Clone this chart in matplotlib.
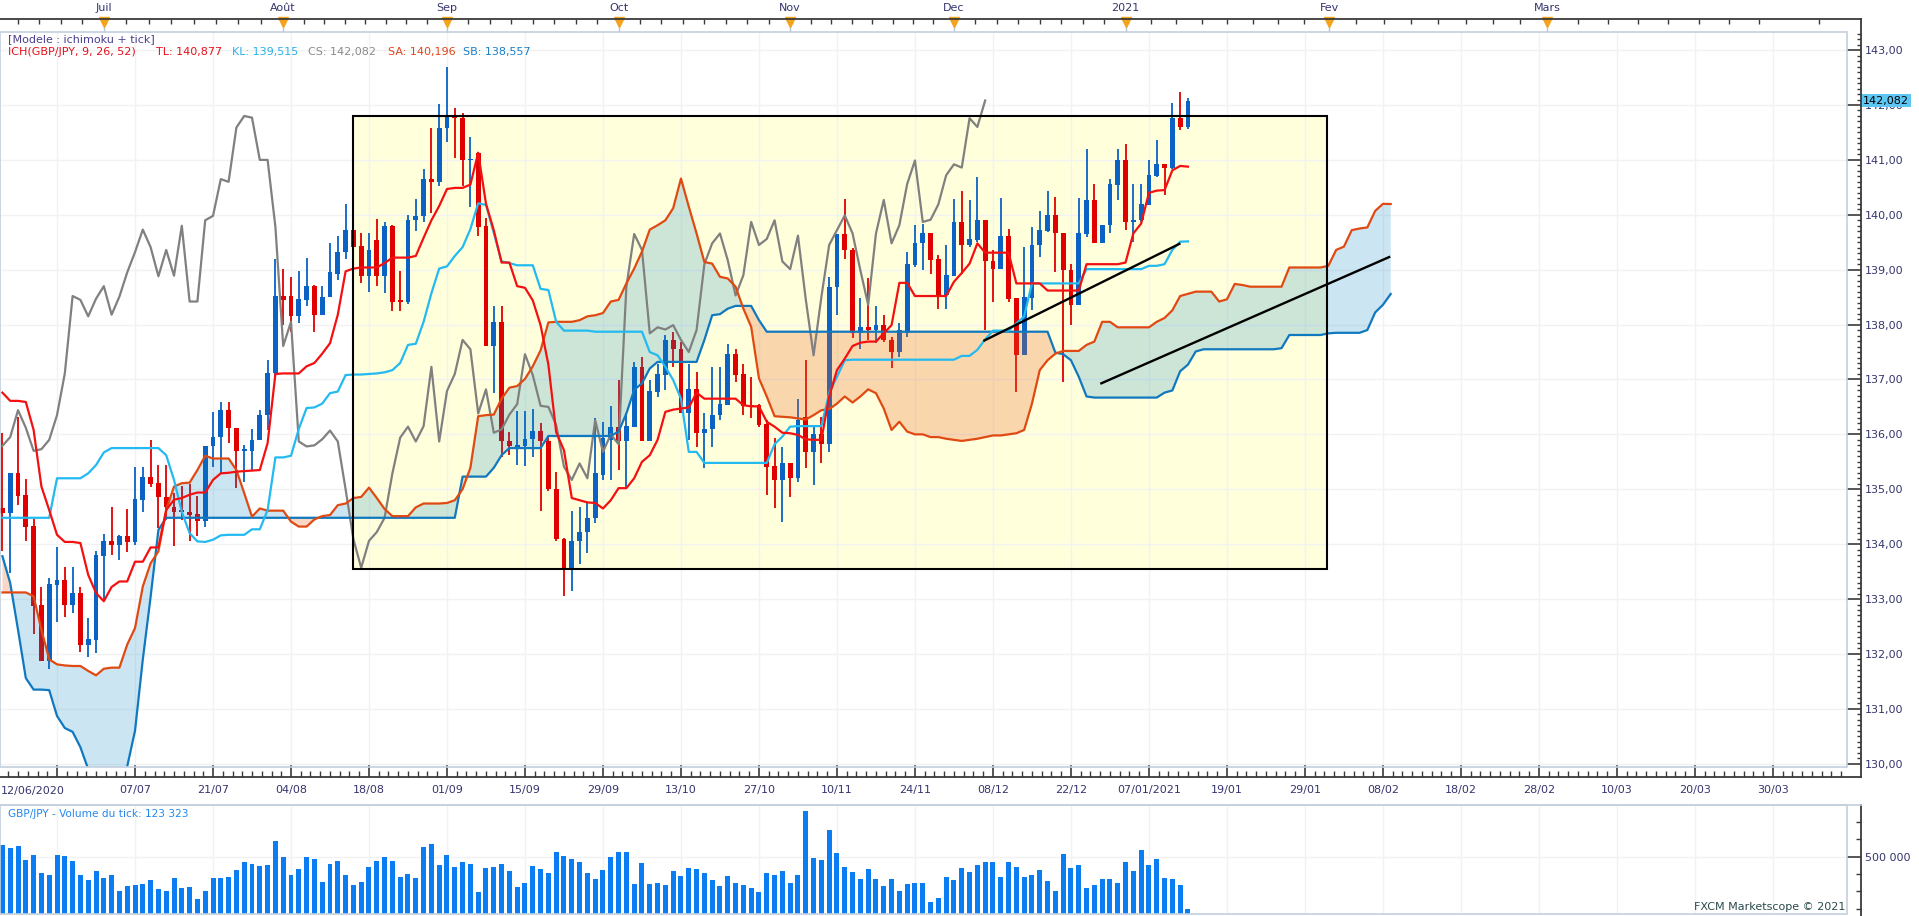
import numpy as np
import matplotlib
matplotlib.use("Agg")
import matplotlib.pyplot as plt
import matplotlib.transforms as mtransforms
from matplotlib.lines import Line2D
from matplotlib.patches import Rectangle
from matplotlib.ticker import FixedLocator, FixedFormatter, FuncFormatter, MultipleLocator

# GBP/JPY daily candles, bar 0 = 12/06/2020 ... bar 152 = 14/01/2021
opens = [
    134.65, 134.56, 135.29, 134.90, 134.33, 132.89, 131.88, 133.26, 133.35, 132.90,
    133.11, 132.17, 132.26, 133.79, 134.06, 133.99, 134.15, 134.04, 134.81, 135.23,
    135.11, 134.85, 134.67, 134.61, 134.58, 134.55, 134.43, 135.78, 135.95, 136.44,
    136.12, 135.70, 135.70, 135.90, 136.35, 137.11, 138.52, 138.52, 138.15, 138.45,
    138.70, 138.18, 138.51, 138.93, 139.32, 139.73, 139.43, 138.88, 139.54, 138.89,
    139.80, 138.44, 138.42, 139.90, 139.98, 140.65, 140.60, 141.59, 141.80, 141.77,
    140.99, 141.13, 139.80, 137.61, 138.05, 135.87, 135.77, 135.78, 135.91, 136.07,
    135.87, 135.01, 134.10, 133.57, 134.06, 134.22, 134.48, 135.26, 135.90, 136.14,
    135.87, 136.14, 137.23, 135.87, 136.77, 137.08, 137.72, 137.56, 136.38, 136.82,
    136.03, 136.09, 136.35, 136.53, 137.46, 137.10, 136.53, 136.53, 136.19, 135.42,
    135.17, 135.47, 135.20, 136.32, 135.68, 136.00, 135.82, 138.68, 139.65, 139.36,
    137.84, 137.95, 137.90, 137.99, 137.72, 137.50, 137.85, 139.08, 139.48, 139.66,
    139.19, 138.53, 138.89, 139.87, 139.45, 139.54, 139.90, 139.16, 139.01, 139.62,
    138.48, 137.44, 138.48, 139.45, 139.71, 139.99, 139.66, 139.00, 138.36, 139.65,
    140.27, 139.49, 139.81, 140.54, 140.99, 139.87, 139.90, 140.18, 140.71, 140.92,
    140.86, 141.76, 141.60,
]
highs = [
    136.02, 135.29, 136.32, 135.18, 134.45, 133.22, 133.38, 133.95, 133.58, 133.58,
    133.22, 132.65, 133.87, 134.19, 134.68, 134.17, 134.64, 135.40, 135.41, 135.90,
    135.45, 135.45, 134.93, 135.06, 135.10, 134.88, 135.79, 136.41, 136.59, 136.59,
    136.12, 135.81, 136.09, 136.44, 137.35, 139.19, 139.02, 138.86, 138.97, 139.22,
    138.73, 138.70, 139.49, 139.62, 140.19, 140.00, 139.67, 139.67, 139.93, 139.87,
    139.82, 138.97, 140.00, 140.29, 140.83, 141.59, 142.01, 142.69, 141.95, 141.85,
    141.41, 141.15, 139.95, 138.34, 138.34, 136.04, 136.43, 136.43, 136.46, 136.20,
    135.97, 135.32, 134.12, 134.61, 134.67, 134.77, 136.30, 136.23, 136.52, 136.99,
    136.38, 137.32, 137.41, 136.99, 137.29, 137.81, 137.87, 137.69, 137.29, 137.14,
    136.38, 137.23, 137.23, 137.64, 137.56, 137.29, 137.04, 136.56, 136.26, 135.93,
    135.77, 135.47, 136.65, 137.35, 136.14, 136.32, 138.87, 139.65, 140.28, 139.39,
    138.48, 138.84, 138.34, 138.17, 137.78, 138.03, 139.33, 139.81, 139.84, 139.66,
    139.27, 139.45, 140.28, 140.44, 140.27, 140.68, 139.90, 139.36, 140.30, 139.75,
    138.48, 139.42, 139.78, 140.06, 140.43, 140.33, 139.66, 139.11, 140.31, 141.20,
    140.56, 139.81, 140.65, 141.20, 141.29, 140.56, 140.56, 140.99, 141.36, 140.92,
    142.03, 142.24, 142.12,
]
lows = [
    133.87, 133.48, 134.72, 134.05, 132.37, 131.88, 131.72, 132.59, 132.67, 132.75,
    132.03, 131.94, 132.02, 132.96, 133.81, 133.72, 133.85, 133.99, 134.58, 135.05,
    134.29, 134.44, 133.97, 134.44, 134.05, 134.14, 134.31, 135.41, 135.29, 135.85,
    135.02, 135.14, 135.35, 135.90, 136.08, 137.00, 137.99, 137.86, 138.02, 138.34,
    137.86, 138.18, 138.51, 138.82, 139.19, 139.32, 138.75, 138.60, 138.70, 138.57,
    138.25, 138.25, 138.37, 139.71, 139.87, 140.03, 140.52, 141.33, 141.04, 140.52,
    140.14, 139.61, 137.61, 136.75, 135.58, 135.62, 135.45, 135.42, 135.58, 134.61,
    134.97, 134.06, 133.05, 133.15, 133.63, 133.83, 134.38, 135.17, 135.17, 135.35,
    135.04, 136.14, 135.87, 135.87, 136.68, 136.81, 137.23, 136.38, 135.90, 135.77,
    135.38, 135.77, 136.26, 136.53, 136.96, 136.35, 136.29, 136.14, 134.89, 134.65,
    134.41, 134.86, 135.14, 135.38, 135.08, 135.47, 135.68, 138.17, 139.20, 137.75,
    137.55, 137.72, 137.67, 137.69, 137.20, 137.41, 137.78, 139.05, 138.99, 138.92,
    138.28, 138.28, 138.89, 138.93, 139.42, 139.51, 137.90, 138.42, 139.01, 138.42,
    136.78, 137.44, 138.27, 139.24, 139.69, 138.95, 136.96, 137.99, 138.36, 139.60,
    139.48, 139.49, 139.66, 140.27, 139.72, 139.51, 139.87, 140.18, 140.68, 140.36,
    140.84, 141.54, 141.57,
]
closes = [
    134.56, 135.29, 134.88, 134.32, 132.88, 131.88, 133.28, 133.35, 132.90, 133.11,
    132.17, 132.27, 133.80, 134.06, 133.99, 134.15, 134.04, 134.82, 135.23, 135.10,
    134.85, 134.67, 134.59, 134.58, 134.53, 134.43, 135.79, 135.95, 136.44, 136.12,
    135.70, 135.73, 135.90, 136.35, 137.11, 138.52, 138.45, 138.15, 138.47, 138.70,
    138.18, 138.51, 138.95, 139.32, 139.73, 139.41, 138.88, 139.36, 138.89, 139.80,
    138.42, 138.42, 139.90, 139.98, 140.65, 140.60, 141.59, 141.80, 141.77, 141.00,
    141.00, 139.78, 137.61, 138.05, 135.87, 135.78, 135.80, 135.91, 136.07, 135.87,
    135.00, 134.09, 133.57, 134.06, 134.22, 134.48, 135.29, 135.94, 136.14, 135.87,
    136.15, 137.23, 135.87, 136.79, 137.10, 137.72, 137.55, 136.38, 136.82, 136.03,
    136.09, 136.36, 136.55, 137.46, 137.08, 136.52, 136.50, 136.17, 135.41, 135.17,
    135.47, 135.20, 136.26, 135.68, 136.00, 135.82, 138.69, 139.65, 139.36, 137.84,
    137.95, 137.91, 137.99, 137.72, 137.50, 137.90, 139.10, 139.48, 139.66, 139.17,
    138.53, 138.90, 139.87, 139.45, 139.56, 139.90, 139.15, 139.01, 139.62, 138.46,
    137.44, 138.50, 139.45, 139.72, 139.99, 139.66, 138.99, 138.36, 139.66, 140.27,
    139.48, 139.81, 140.56, 140.99, 139.87, 139.91, 140.19, 140.72, 140.92, 140.86,
    141.76, 141.60, 142.082,
]

# Ichimoku lines as drawn on the chart
tenkan = [
    136.76, 136.61, 136.61, 136.59, 136.08, 135.05, 134.62, 134.17, 134.04, 134.04,
    134.02, 133.44, 133.11, 132.96, 133.22, 133.32, 133.32, 133.68, 133.68, 133.94,
    133.94, 134.62, 134.81, 134.84, 134.90, 134.94, 134.94, 135.17, 135.29, 135.30,
    135.32, 135.33, 135.34, 135.35, 135.84, 137.10, 137.11, 137.11, 137.11, 137.24,
    137.30, 137.47, 137.66, 138.18, 138.97, 139.02, 139.04, 139.04, 139.04, 139.12,
    139.22, 139.22, 139.22, 139.25, 139.58, 139.90, 140.16, 140.47, 140.49, 140.49,
    140.55, 141.13, 140.20, 139.72, 139.13, 139.13, 138.70, 138.67, 138.44, 137.99,
    137.27, 136.04, 135.71, 134.84, 134.80, 134.76, 134.75, 134.65, 134.80, 135.02,
    135.02, 135.20, 135.50, 135.62, 135.90, 136.41, 136.45, 136.47, 136.49, 136.76,
    136.65, 136.65, 136.65, 136.65, 136.65, 136.53, 136.51, 136.51, 136.23, 136.14,
    136.03, 136.02, 135.99, 135.91, 135.90, 135.90, 136.69, 137.17, 137.38, 137.61,
    137.67, 137.69, 137.69, 137.84, 137.99, 138.76, 138.76, 138.52, 138.52, 138.52,
    138.52, 138.52, 138.78, 138.94, 139.11, 139.48, 139.31, 139.31, 139.31, 139.31,
    138.75, 138.75, 138.75, 138.75, 138.62, 138.62, 138.62, 138.62, 138.62, 139.10,
    139.10, 139.10, 139.10, 139.10, 139.13, 139.66, 139.84, 140.40, 140.44, 140.45,
    140.81, 140.89, 140.877,
]
kijun = [
    134.48, 134.48, 134.48, 134.48, 134.48, 134.48, 134.48, 135.20, 135.20, 135.20,
    135.20, 135.29, 135.44, 135.67, 135.75, 135.75, 135.75, 135.75, 135.75, 135.75,
    135.75, 135.62, 135.17, 134.59, 134.20, 134.05, 134.04, 134.08, 134.16, 134.17,
    134.17, 134.17, 134.27, 134.27, 134.62, 135.58, 135.58, 135.61, 136.10, 136.48,
    136.49, 136.56, 136.75, 136.78, 137.08, 137.09, 137.09, 137.10, 137.11, 137.13,
    137.17, 137.30, 137.63, 137.65, 138.05, 138.57, 139.02, 139.06, 139.25, 139.41,
    139.74, 140.21, 140.18, 139.67, 139.15, 139.12, 139.08, 139.08, 139.08, 138.65,
    138.63, 138.05, 137.89, 137.89, 137.89, 137.89, 137.87, 137.87, 137.87, 137.87,
    137.87, 137.87, 137.87, 137.50, 137.44, 137.23, 136.99, 136.65, 135.68, 135.68,
    135.48, 135.48, 135.48, 135.48, 135.48, 135.48, 135.48, 135.48, 135.48, 135.82,
    135.96, 136.14, 136.15, 136.15, 136.15, 136.15, 136.75, 137.05, 137.35, 137.36,
    137.36, 137.36, 137.36, 137.36, 137.36, 137.36, 137.36, 137.36, 137.36, 137.36,
    137.36, 137.36, 137.36, 137.43, 137.43, 137.54, 137.73, 137.89, 137.89, 137.89,
    138.02, 138.15, 138.75, 138.75, 138.75, 138.75, 138.75, 138.75, 138.75, 139.01,
    139.01, 139.01, 139.01, 139.01, 139.01, 139.01, 139.01, 139.07, 139.07, 139.10,
    139.36, 139.51, 139.515,
]
# Senkou spans run 26 bars past the last candle (bar 178)
senkou_a = [
    133.12, 133.12, 133.12, 133.12, 133.05, 132.44, 131.90, 131.81, 131.79, 131.78,
    131.78, 131.69, 131.61, 131.73, 131.75, 131.75, 132.17, 132.47, 133.23, 133.65,
    133.87, 134.62, 135.05, 135.11, 135.12, 135.35, 135.61, 135.56, 135.56, 135.56,
    135.35, 134.93, 134.50, 134.65, 134.61, 134.61, 134.61, 134.41, 134.32, 134.32,
    134.45, 134.51, 134.53, 134.71, 134.74, 134.84, 134.86, 135.03, 134.84, 134.64,
    134.51, 134.51, 134.51, 134.67, 134.74, 134.74, 134.74, 134.75, 134.80, 135.00,
    135.39, 136.33, 136.35, 136.36, 136.65, 136.85, 136.88, 137.01, 137.24, 137.53,
    138.04, 138.05, 138.05, 138.05, 138.08, 138.15, 138.17, 138.21, 138.42, 138.45,
    138.75, 139.02, 139.33, 139.73, 139.81, 139.90, 140.12, 140.66, 140.15, 139.66,
    139.14, 139.11, 138.87, 138.84, 138.69, 138.29, 137.96, 137.02, 136.69, 136.33,
    136.32, 136.31, 136.29, 136.27, 136.35, 136.44, 136.46, 136.56, 136.69, 136.58,
    136.69, 136.82, 136.75, 136.47, 136.08, 136.23, 136.05, 136.00, 136.00, 135.95,
    135.95, 135.92, 135.90, 135.88, 135.90, 135.92, 135.95, 135.98, 135.98, 136.00,
    136.02, 136.08, 136.56, 137.17, 137.35, 137.47, 137.52, 137.52, 137.52, 137.63,
    137.69, 138.05, 138.05, 137.95, 137.95, 137.95, 137.95, 137.95, 138.05, 138.12,
    138.26, 138.52, 138.56, 138.60, 138.60, 138.60, 138.42, 138.46, 138.74, 138.72,
    138.69, 138.69, 138.69, 138.69, 138.69, 139.04, 139.04, 139.04, 139.04, 139.04,
    139.07, 139.36, 139.42, 139.72, 139.75, 139.77, 140.07, 140.20, 140.196,
]
senkou_b = [
    133.78, 133.29, 132.44, 131.56, 131.35, 131.35, 131.34, 130.87, 130.65, 130.58,
    130.30, 129.90, 129.50, 129.40, 129.40, 129.50, 129.95, 130.60, 131.90, 133.04,
    134.26, 134.48, 134.48, 134.48, 134.48, 134.48, 134.48, 134.48, 134.48, 134.48,
    134.48, 134.48, 134.48, 134.48, 134.48, 134.48, 134.48, 134.48, 134.48, 134.48,
    134.48, 134.48, 134.48, 134.48, 134.48, 134.48, 134.48, 134.48, 134.48, 134.48,
    134.48, 134.48, 134.48, 134.48, 134.48, 134.48, 134.48, 134.48, 134.48, 135.23,
    135.23, 135.23, 135.23, 135.39, 135.62, 135.75, 135.75, 135.75, 135.75, 135.75,
    135.97, 135.97, 135.97, 135.97, 135.97, 135.97, 135.97, 135.97, 135.97, 136.05,
    136.38, 136.81, 136.93, 137.20, 137.32, 137.32, 137.32, 137.32, 137.32, 137.32,
    137.72, 138.17, 138.19, 138.29, 138.34, 138.34, 138.34, 138.08, 137.87, 137.87,
    137.87, 137.87, 137.87, 137.87, 137.87, 137.87, 137.87, 137.87, 137.87, 137.87,
    137.87, 137.87, 137.87, 137.87, 137.87, 137.87, 137.87, 137.87, 137.87, 137.87,
    137.87, 137.87, 137.87, 137.87, 137.87, 137.87, 137.87, 137.87, 137.87, 137.87,
    137.87, 137.87, 137.87, 137.87, 137.87, 137.49, 137.46, 137.35, 137.05, 136.69,
    136.67, 136.67, 136.67, 136.67, 136.67, 136.67, 136.67, 136.67, 136.67, 136.76,
    136.80, 137.15, 137.27, 137.51, 137.55, 137.55, 137.55, 137.55, 137.55, 137.55,
    137.55, 137.55, 137.55, 137.55, 137.57, 137.81, 137.81, 137.81, 137.81, 137.81,
    137.84, 137.85, 137.85, 137.85, 137.85, 137.90, 138.22, 138.36, 138.557,
]

# tick volume, thousands
volume_k = [
    584, 565, 577, 476, 512, 380, 368, 512, 505, 469,
    368, 332, 397, 347, 368, 253, 289, 296, 304, 332,
    268, 253, 347, 275, 282, 196, 253, 347, 347, 354,
    404, 462, 447, 433, 440, 613, 498, 368, 411, 498,
    483, 318, 447, 469, 368, 296, 318, 426, 469, 498,
    469, 354, 376, 347, 570, 591, 440, 512, 426, 462,
    447, 246, 419, 426, 447, 397, 282, 311, 433, 411,
    383, 534, 505, 483, 462, 383, 340, 404, 498, 534,
    534, 304, 455, 304, 311, 296, 397, 361, 419, 411,
    380, 332, 289, 361, 311, 296, 275, 246, 383, 368,
    397, 311, 368, 829, 491, 476, 692, 527, 426, 390,
    340, 411, 340, 289, 340, 253, 304, 311, 311, 174,
    203, 354, 332, 419, 390, 440, 462, 462, 354, 462,
    426, 354, 368, 404, 325, 253, 519, 419, 440, 275,
    296, 340, 340, 311, 462, 397, 548, 440, 483, 347,
    340, 296, 123.323,
]

# drawn objects: yellow box and the two trend lines (bar index, price)
box_bars = [44.95, 169.8]
box_prices = [133.55, 141.80]
trend1_bars = [125.9, 150.9]
trend1_prices = [137.71, 139.47]
trend2_bars = [140.9, 177.8]
trend2_prices = [136.93, 139.23]

first_date = "12/06/2020"
date_labels = ["", "07/07", "21/07", "04/08", "18/08", "01/09", "15/09", "29/09",
               "13/10", "27/10", "10/11", "24/11", "08/12", "22/12", "07/01/2021",
               "19/01", "29/01", "08/02", "18/02", "28/02", "10/03", "20/03", "30/03"]
date_ticks = [7, 17, 27, 37, 47, 57, 67, 77, 87, 97, 107, 117, 127, 137, 147,
              157, 167, 177, 187, 197, 207, 217, 227]
month_labels = ["Juil", "Août", "Sep", "Oct", "Nov", "Dec", "2021", "Fev", "Mars", ""]
month_ticks = [13, 36, 57, 79, 101, 122, 144, 170.1, 198.1, 229.1]

W, H, DPI = 1919, 916, 100
LABEL = "#35356e"
AXIS = "#3a3a3a"
BORDER = "#c3d0de"
UP, DOWN = "#0a62c4", "#e00000"
PT = 72 / DPI  # points per pixel


def comma(v, nd=2):
    return f"{v:.{nd}f}".replace(".", ",")


def px_rect(x0, y0, x1, y1):
    return [x0 / W, 1 - y1 / H, (x1 - x0) / W, (y1 - y0) / H]


plt.rcParams["font.family"] = ["DejaVu Sans"]
fig = plt.figure(figsize=(W / DPI, H / DPI), dpi=DPI)
fig.patch.set_facecolor("white")

ax = fig.add_axes(px_rect(0, 32, 1847, 767))
axv = fig.add_axes(px_rect(0, 805, 1847, 914), sharex=ax)

n = len(closes)
idx = np.arange(n)
o, h, l, c = map(np.array, (opens, highs, lows, closes))

# ---- main price panel ----
ax.set_xlim(-0.31, 236.5)
ax.set_ylim(129.94, 143.33)
ax.grid(True, which="major", color="#f2f2f2", lw=1, zorder=0)
ax.set_axisbelow(True)

ax.add_patch(Rectangle((box_bars[0], box_prices[0]), box_bars[1] - box_bars[0],
                       box_prices[1] - box_prices[0], facecolor="#ffffdc",
                       edgecolor="none", zorder=0.5))

up = c >= o
cols = np.where(up, UP, DOWN)
ax.vlines(idx, l, h, colors=cols, lw=1.3, zorder=2)
body_h = np.maximum(np.abs(c - o), 0.035)
ax.bar(idx, body_h, bottom=np.minimum(o, c), width=0.62, color=cols,
       linewidth=0, zorder=2.1)

sa = np.array(senkou_a)
sb = np.array(senkou_b)
xs = np.arange(len(sa))
ax.fill_between(xs, sa, sb, where=sa >= sb, interpolate=True,
                color="#0080c0", alpha=0.2, lw=0, zorder=3)
ax.fill_between(xs, sa, sb, where=sa < sb, interpolate=True,
                color="#e86420", alpha=0.26, lw=0, zorder=3)

# chikou span: closes shifted back 26 bars
ax.plot(idx[:-26], c[26:], color="#808080", lw=1.6, zorder=4)
ax.plot(xs, sb, color="#1078bf", lw=1.6, zorder=4)
ax.plot(xs, sa, color="#e04a12", lw=1.6, zorder=4)
ax.plot(idx, kijun, color="#22baf0", lw=1.6, zorder=4.1)
ax.plot(idx, tenkan, color="#f41010", lw=1.6, zorder=4.2)

ax.add_patch(Rectangle((box_bars[0], box_prices[0]), box_bars[1] - box_bars[0],
                       box_prices[1] - box_prices[0], facecolor="none",
                       edgecolor="black", lw=1.5, zorder=5))
ax.plot(trend1_bars, trend1_prices, color="black", lw=1.7, zorder=5)
ax.plot(trend2_bars, trend2_prices, color="black", lw=1.7, zorder=5)

for s in ax.spines.values():
    s.set_visible(False)
ax.add_patch(Rectangle((0, 0), 1, 1, transform=ax.transAxes, fill=False,
                       edgecolor=BORDER, lw=1.2, clip_on=False, zorder=6))
ax.spines["right"].set_position(("outward", 14 * PT))
ax.spines["bottom"].set_position(("outward", 10 * PT))

ax.yaxis.tick_right()
ax.yaxis.set_major_locator(MultipleLocator(1))
ax.yaxis.set_minor_locator(MultipleLocator(0.1))
ax.yaxis.set_major_formatter(FuncFormatter(lambda v, p: comma(v)))
ax.tick_params(axis="y", which="major", direction="in", length=14 * PT, width=1.2,
               color=AXIS, pad=3, labelsize=8, labelcolor=LABEL)
ax.tick_params(axis="y", which="minor", direction="in", length=4 * PT, width=1,
               color=AXIS)

ax.xaxis.set_major_locator(FixedLocator(date_ticks))
ax.xaxis.set_major_formatter(FixedFormatter(date_labels))
ax.xaxis.set_minor_locator(FixedLocator(np.arange(-1.75, 236, 1.25)))
ax.tick_params(axis="x", which="major", direction="in", length=13 * PT, width=1.2,
               color=AXIS, pad=6, labelsize=8, labelcolor=LABEL)
ax.tick_params(axis="x", which="minor", direction="in", length=6 * PT, width=1,
               color=AXIS)
fig.text(1 / W, 1 - 791 / H, first_date, fontsize=8, color=LABEL,
         ha="left", va="center")

# top month axis
top = ax.secondary_xaxis(1 + 13 / 735)
for s in top.spines.values():
    s.set_visible(False)
top.xaxis.set_major_locator(FixedLocator(month_ticks))
top.xaxis.set_major_formatter(FixedFormatter(month_labels))
month_edges = [-9.0] + month_ticks + [260.0]
top_minor = []
for a, b in zip(month_edges[:-1], month_edges[1:]):
    top_minor.extend(np.linspace(a, b, 9)[1:-1])
top.xaxis.set_minor_locator(FixedLocator([t for t in top_minor if t < 236.4]))
top.tick_params(axis="x", which="major", direction="in", length=0, pad=4,
                labelsize=8, labelcolor=LABEL)
top.tick_params(axis="x", which="minor", direction="in", length=5 * PT, width=1,
                color=AXIS)
tri = mtransforms.blended_transform_factory(ax.transData, ax.transAxes)
ax.plot(month_ticks[:-1], [1 + 9.5 / 735] * (len(month_ticks) - 1), ls="none",
        marker="v", ms=7, color="#f5a21c", transform=tri, clip_on=False, zorder=7)
ax.vlines(month_ticks[:-1], 1.0, 1 + 6 / 735, colors="#b8c4d2", lw=1,
          transform=tri, clip_on=False)

# legend lines
fig.text(8 / W, 1 - 39 / H, "[Modele : ichimoku + tick]", fontsize=8,
         color="#4a3f8c", va="center")
legend_parts = [
    (8, "ICH(GBP/JPY, 9, 26, 52)", "#e8101a"),
    (156, "TL: " + comma(tenkan[-1], 3), "#e8101a"),
    (232, "KL: " + comma(kijun[-1], 3), "#2ab0e8"),
    (308, "CS: " + comma(closes[-1], 3), "#8a8a8a"),
    (388, "SA: " + comma(senkou_a[-1], 3), "#e0451a"),
    (463, "SB: " + comma(senkou_b[-1], 3), "#1a80c8"),
]
for xp, txt, col in legend_parts:
    fig.text(xp / W, 1 - 52 / H, txt, fontsize=8, color=col, va="center")

# current price tag
ax.text(1 + 16 / 1847, closes[-1], comma(closes[-1], 3),
        transform=mtransforms.blended_transform_factory(ax.transAxes, ax.transData),
        fontsize=8, color="black", ha="left", va="center", zorder=8,
        bbox=dict(boxstyle="square,pad=0.15", facecolor="#5ec6f2", edgecolor="none"))

# ---- volume panel ----
vol = np.array(volume_k) * 1000
axv.set_ylim(87800, 872000)
axv.bar(idx, vol, width=0.64, color="#0a7df2", linewidth=0, zorder=2)
axv.grid(True, which="major", color="#f2f2f2", lw=1, zorder=0)
axv.set_axisbelow(True)
for s in axv.spines.values():
    s.set_visible(False)
axv.add_patch(Rectangle((0, 0), 1, 1, transform=axv.transAxes, fill=False,
                        edgecolor=BORDER, lw=1.2, clip_on=False, zorder=6))
axv.spines["right"].set_position(("outward", 14 * PT))
axv.yaxis.tick_right()
axv.yaxis.set_major_locator(FixedLocator([500000]))
axv.yaxis.set_minor_locator(MultipleLocator(125000))
axv.yaxis.set_major_formatter(FuncFormatter(lambda v, p: f"{int(v):,}".replace(",", " ")))
axv.tick_params(axis="y", which="major", direction="in", length=14 * PT, width=1.2,
                color=AXIS, pad=3, labelsize=8, labelcolor=LABEL)
axv.tick_params(axis="y", which="minor", direction="in", length=5 * PT, width=1,
                color=AXIS)
axv.tick_params(axis="x", which="both", length=0, labelbottom=False)
vol_title = f"GBP/JPY - Volume du tick: {int(round(volume_k[-1] * 1000)):,}".replace(",", " ")
axv.text(8 / 1847, 1 - 9 / 109, vol_title, transform=axv.transAxes, fontsize=7.6,
         color="#2288f0", va="center")
fig.text(1845 / W, 1 - 907 / H, "FXCM Marketscope © 2021", fontsize=8,
         color="#2b4a4a", ha="right", va="center")

# dark axis lines
for (x0, y0, x1, y1) in [(0, 19, 1861, 19), (1861, 19, 1861, 777),
                         (0, 777, 1861, 777), (1861, 805, 1861, 916)]:
    fig.add_artist(Line2D([x0 / W, x1 / W], [1 - y0 / H, 1 - y1 / H],
                          color=AXIS, lw=1.3, transform=fig.transFigure))
fig.add_artist(Line2D([0, 1861 / W], [1 - 805 / H, 1 - 805 / H], color=BORDER,
                      lw=1.2, transform=fig.transFigure))

fig.savefig("out.png", dpi=DPI)
